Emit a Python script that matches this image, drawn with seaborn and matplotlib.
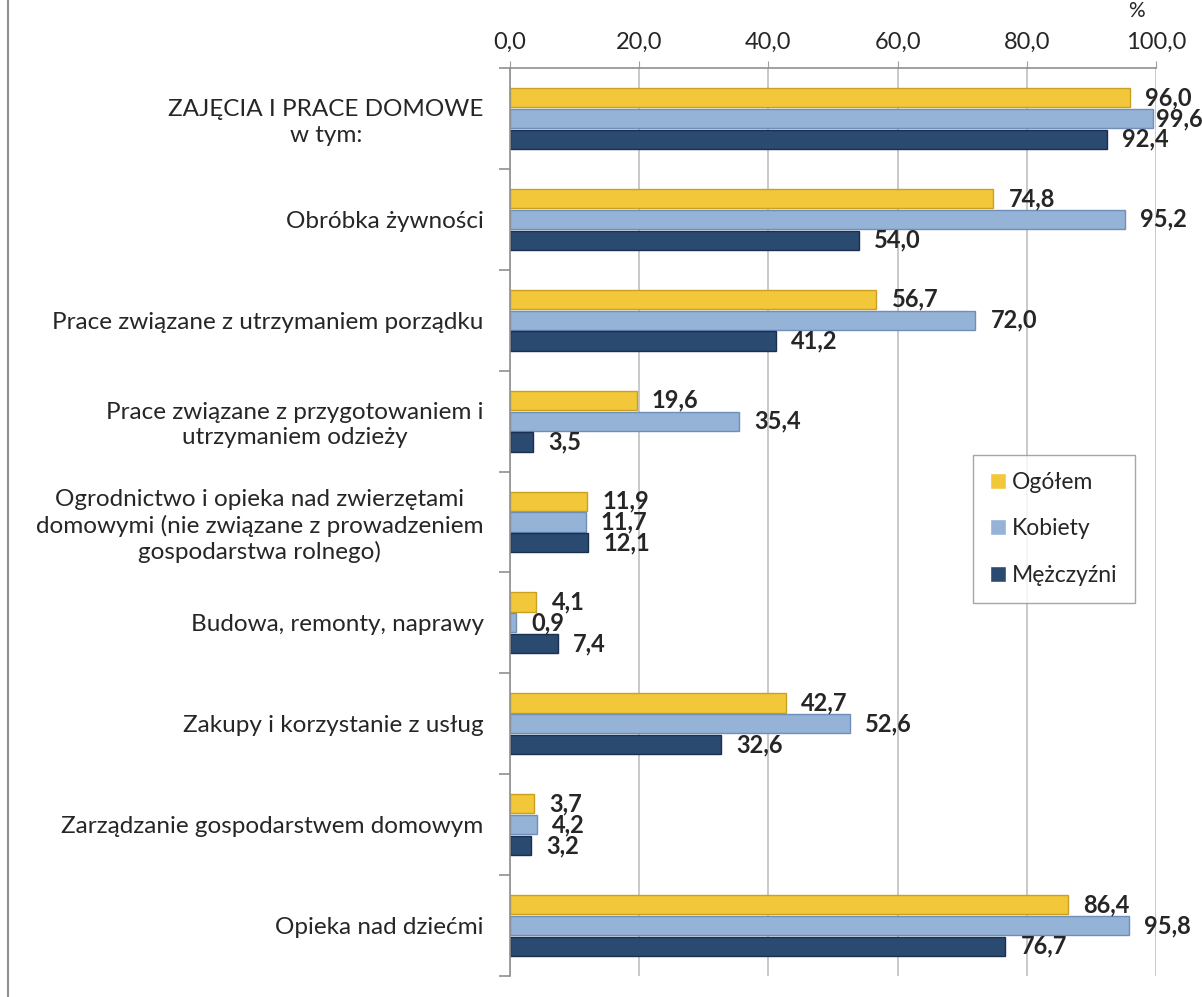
import numpy as np
import pandas as pd
import matplotlib
matplotlib.use("Agg")
import matplotlib.pyplot as plt
import seaborn as sns
from matplotlib.lines import Line2D
from matplotlib.ticker import FixedLocator, FuncFormatter

categories = [
    "ZAJĘCIA I PRACE DOMOWE\nw tym:",
    "Obróbka żywności",
    "Prace związane z utrzymaniem porządku",
    "Prace związane z przygotowaniem i\nutrzymaniem odzieży",
    "Ogrodnictwo i opieka nad zwierzętami\ndomowymi (nie związane z prowadzeniem\ngospodarstwa rolnego)",
    "Budowa, remonty, naprawy",
    "Zakupy i korzystanie z usług",
    "Zarządzanie gospodarstwem domowym",
    "Opieka nad dziećmi",
]
series = ["Ogółem", "Kobiety", "Mężczyźni"]
ogolem = [96.0, 74.8, 56.7, 19.6, 11.9, 4.1, 42.7, 3.7, 86.4]
kobiety = [99.6, 95.2, 72.0, 35.4, 11.7, 0.9, 52.6, 4.2, 95.8]
mezczyzni = [92.4, 54.0, 41.2, 3.5, 12.1, 7.4, 32.6, 3.2, 76.7]

colors = ["#F2C73A", "#95B3D7", "#2A4A70"]
edges = ["#C9A020", "#6F8FB8", "#1A3050"]

df = pd.DataFrame({
    "kategoria": categories * 3,
    "grupa": [s for s in series for _ in categories],
    "wartosc": ogolem + kobiety + mezczyzni,
})

sns.set_style("white")
plt.rcParams['font.family'] = ['Lato', 'DejaVu Sans']

fig = plt.figure(figsize=(12.02, 9.97), dpi=100)
ax = fig.add_axes([510 / 1202, 1 - 976 / 997, (1156 - 510) / 1202, (976 - 68) / 997])

sns.barplot(data=df, y="kategoria", x="wartosc", hue="grupa", order=categories,
            hue_order=series, palette=colors, orient="h", width=0.62,
            saturation=1, ax=ax, legend=True)

# obramowania słupków i etykiety wartości
for i, cont in enumerate(ax.containers):
    for bar in cont:
        bar.set_edgecolor(edges[i])
        bar.set_linewidth(1.0)
        h = bar.get_height()
        bar.set_height(h * 0.92)
        bar.set_y(bar.get_y() + h * 0.04)
    labels = [f"{v:.1f}".replace(".", ",") for v in cont.datavalues]
    texts = ax.bar_label(cont, labels=labels, padding=11, fontsize=17, fontweight="bold")
    # etykieta przy samej krawędzi - dosunięta, żeby się zmieściła
    for t, v in zip(texts, cont.datavalues):
        if v > 99:
            t.set_position((2, 0))

ax.set_xlim(0, 100)
ax.set_ylim(8.5, -0.5)
ax.xaxis.tick_top()
ax.set_xticks(np.arange(0, 101, 20))
ax.xaxis.set_major_formatter(FuncFormatter(lambda v, p: f"{v:.1f}".replace(".", ",")))
ax.tick_params(axis="x", length=5, color="#a0a0a0", labelsize=17, pad=6)
ax.grid(axis="x", color="#c0c0c0", linewidth=1.2)
ax.set_axisbelow(True)

ax.yaxis.set_minor_locator(FixedLocator(np.arange(-0.5, 9.0, 1.0)))
ax.tick_params(axis="y", which="major", length=0, labelsize=17.5, pad=19)
ax.tick_params(axis="y", which="minor", length=8, color="#909090", width=1.2, left=True)
for lab in ax.get_yticklabels():
    lab.set_multialignment("center")
    lab.set_linespacing(1.25)

ax.set_xlabel("")
ax.set_ylabel("")
for s in ["right", "bottom"]:
    ax.spines[s].set_visible(False)
for s in ["left", "top"]:
    ax.spines[s].set_color("#909090")
    ax.spines[s].set_linewidth(1.2)

leg = ax.legend(loc="upper left", bbox_to_anchor=((973 - 510) / 646, 1 - (455 - 68) / 908),
                fontsize=16.5, frameon=True, fancybox=False, edgecolor="#909090",
                labelspacing=1.1, handlelength=0.7, handleheight=0.7, handletextpad=0.25,
                borderpad=0.75, borderaxespad=0)
for h in leg.legend_handles:
    h.set_linewidth(1.0)

fig.text(1136 / 1202, 0.999, "%", fontsize=15, ha="center", va="top")
fig.add_artist(Line2D([8 / 1202, 8 / 1202], [0, 1], color="#909090", linewidth=1.5,
                      transform=fig.transFigure))

fig.savefig("out.png", dpi=100)
